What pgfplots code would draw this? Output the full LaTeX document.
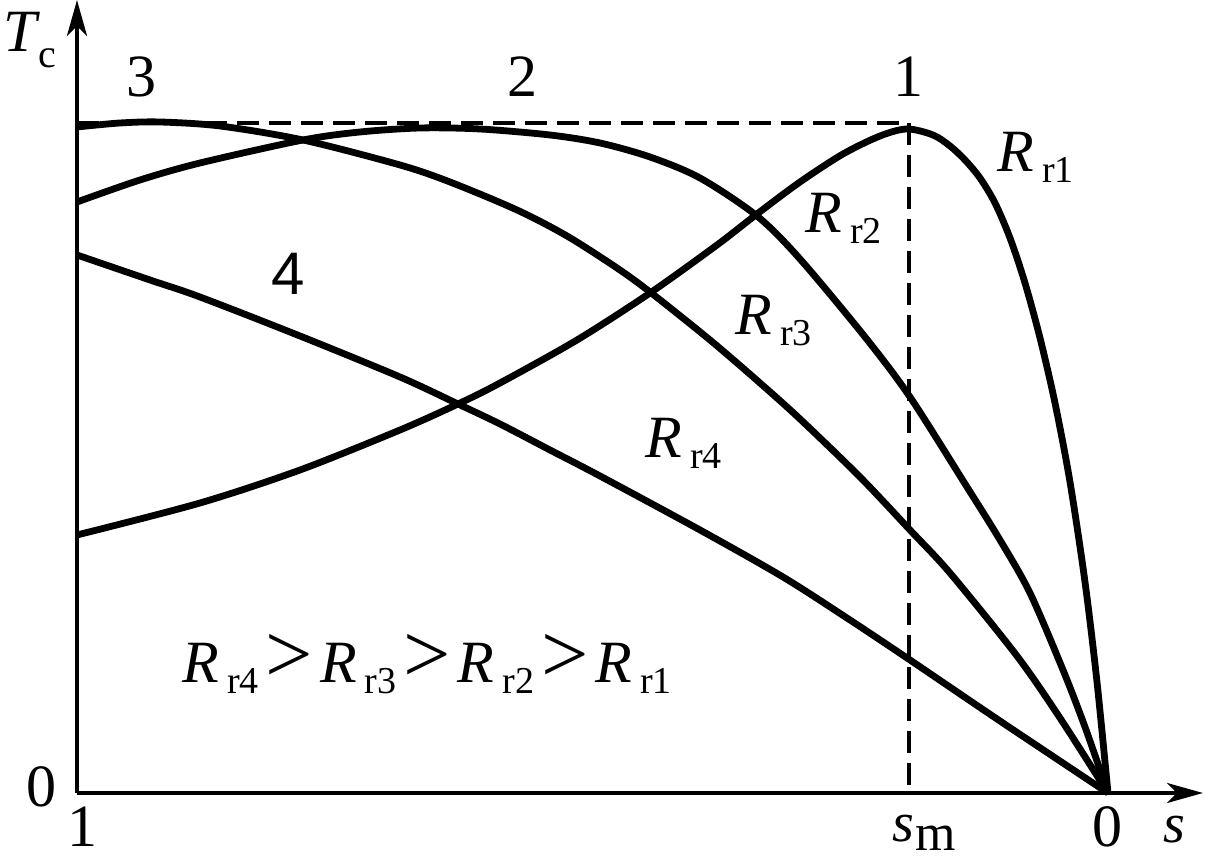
\documentclass[border=0pt]{standalone}
\usepackage{pgfplots}
\pgfplotsset{compat=1.18}
\usetikzlibrary{arrows.meta}
\usepackage{fontspec}
\setmainfont{Liberation Serif}
\newfontfamily\sansf{Liberation Sans}
\newcommand{\Lf}{\fontsize{30}{36}\selectfont}
\newcommand{\Sf}{\fontsize{19}{22}\selectfont}
\newcommand{\Rr}[1]{\textit{R}\kern4pt\raisebox{-5.5pt}{\Sf r#1}}
\newcommand{\gtr}{\kern3.5pt{\fontsize{42}{42}\selectfont >}\kern3.5pt}
\begin{document}
\begin{tikzpicture}
\path[use as bounding box] (-38.5pt,-34pt) rectangle (564pt,396.5pt);
\begin{axis}[
  scale only axis, width=563pt, height=396.5pt,
  xmin=0, xmax=1126, ymin=0, ymax=793,
  axis lines=left,
  axis line style={line width=2.2pt},
  x axis line style={-{Stealth[length=18pt,width=10pt,inset=5pt]}},
  y axis line style={-{Stealth[length=18pt,width=10pt,inset=5pt]}},
  xtick=\empty, ytick=\empty,
  clip=false,
]
% dashed guide lines (T_max and s_m)
\addplot[black, sharp plot, line width=2.4pt, dash pattern=on 11pt off 5pt] coordinates {(0,670) (832,670) (832,0)};
% R_r1
\addplot[black, smooth, line width=3.4pt] coordinates {
(0,258) (123,290) (223,323) (323,363) (381,389) (423,410) (500,453) (573,500)
(640,548) (680,579) (723,611) (766,639) (803,657) (830,664) (856,658) (873,647)
(888,633) (903,615) (918,590) (933,555) (948,510) (963,455) (978,390) (993,311)
(1008,211) (1020,111) (1031,0)};
% R_r2
\addplot[black, smooth, line width=3.4pt] coordinates {
(0,591) (63,613) (123,630) (226,653) (283,661) (343,665) (403,664) (473,658)
(523,650) (573,636) (623,615) (680,577) (723,534) (788,456) (833,396) (890,306)
(923,253) (953,200) (986,123) (1008,66) (1031,0)};
% R_r3
\addplot[black, smooth, line width=3.4pt] coordinates {
(0,666) (43,670) (83,671) (143,667) (226,653) (323,628) (373,611) (440,583)
(490,557) (540,525) (573,501) (633,453) (683,410) (723,374) (783,316) (833,263)
(873,220) (940,137) (983,75) (1031,0)};
% R_r4
\addplot[black, smooth, line width=3.4pt] coordinates {
(0,538) (73,513) (123,496) (223,457) (323,416) (381,389) (423,369) (473,343)
(523,317) (623,263) (706,216) (773,173) (833,133) (923,72) (1031,0)};
% labels
\node[anchor=base west, inner sep=0, font=\Lf] at (axis cs:920,621) {\Rr1};
\node[anchor=base west, inner sep=0, font=\Lf] at (axis cs:728,560) {\Rr2};
\node[anchor=base west, inner sep=0, font=\Lf] at (axis cs:658,458) {\Rr3};
\node[anchor=base west, inner sep=0, font=\Lf] at (axis cs:568,335) {\Rr4};
\node[anchor=base, inner sep=0, font=\Lf] at (axis cs:64,696) {3};
\node[anchor=base, inner sep=0, font=\Lf] at (axis cs:445,696) {2};
\node[anchor=base, inner sep=0, font=\Lf] at (axis cs:831,696) {1};
\node[anchor=base, inner sep=0, font=\sansf\Lf] at (axis cs:211,498) {4};
\node[anchor=base west, inner sep=0, font=\Lf] at (axis cs:-74,741) {\textit{T}\kern-1pt\raisebox{-8pt}{\fontsize{20}{20}\selectfont c}};
\node[anchor=base, inner sep=0, font=\Lf] at (axis cs:-35.5,-14) {0};
\node[anchor=base, inner sep=0, font=\Lf] at (axis cs:5.5,-54) {1};
\node[anchor=base, inner sep=0, font=\Lf] at (axis cs:1030.5,-54) {0};
\node[anchor=base west, inner sep=0] at (axis cs:815,-49) {\fontsize{28}{28}\selectfont\textit{s}\kern0.5pt\raisebox{-4.5pt}{\fontsize{26}{26}\selectfont m}};
\node[anchor=base west, inner sep=0] at (axis cs:1086,-50) {\fontsize{28}{28}\selectfont\textit{s}};
\node[anchor=base west, inner sep=0, font=\Lf] at (axis cs:105,110) {\Rr4\gtr\Rr3\gtr\Rr2\gtr\Rr1};
\end{axis}
\end{tikzpicture}
\end{document}
